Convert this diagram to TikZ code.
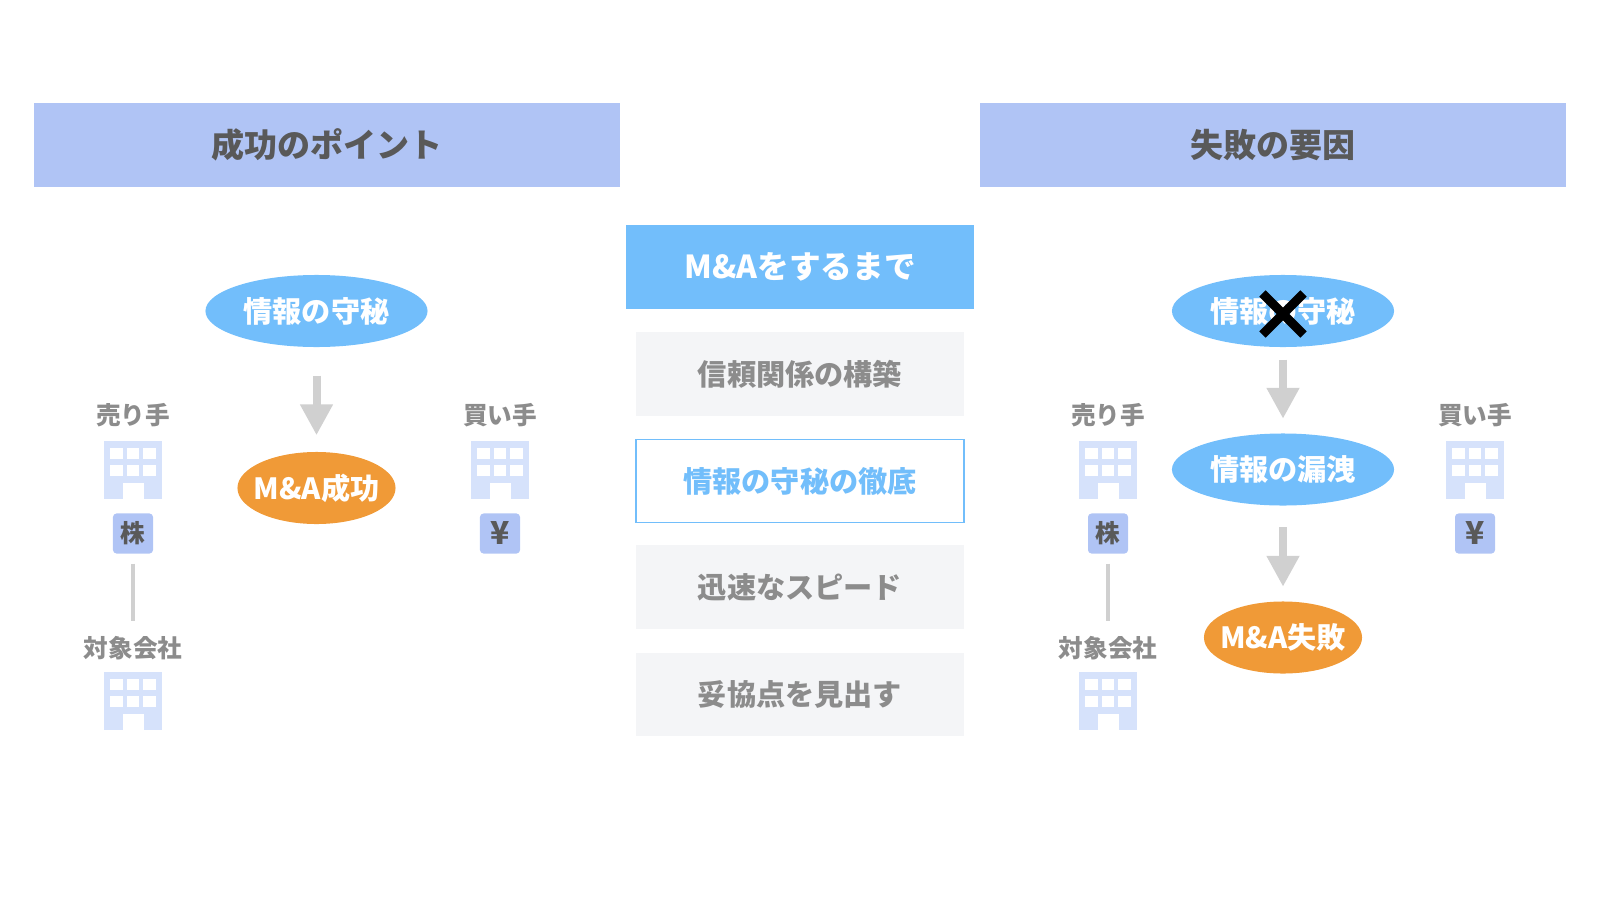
\documentclass[tikz,border=0pt]{standalone}
\usepackage{fontspec}
\setmainfont{Noto Sans CJK JP}
\usetikzlibrary{arrows.meta,shapes.geometric,shapes.misc}
\definecolor{headBlue}{HTML}{B0C4F5}
\definecolor{skyBlue}{HTML}{72BEFB}
\definecolor{paleGray}{HTML}{F4F5F7}
\definecolor{darkText}{HTML}{595959}
\definecolor{grayText}{HTML}{8C8C8C}
\definecolor{orangeFill}{HTML}{F09A37}
\definecolor{buildingFill}{HTML}{D6E2FB}
\definecolor{arrowGray}{HTML}{D0D0D0}
\tikzset{
  band/.style={fill=headBlue, text=darkText, inner sep=0pt, font=\fontsize{9.4}{11}\selectfont\bfseries,
    minimum height=0.83cm},
  midhead/.style={fill=skyBlue, text=white, inner sep=0pt, font=\fontsize{9}{11}\selectfont\bfseries,
    minimum width=3.48cm, minimum height=0.83cm},
  midbox/.style={fill=paleGray, text=grayText, inner sep=0pt, font=\fontsize{8.3}{10}\selectfont\bfseries,
    minimum width=3.28cm, minimum height=0.83cm},
  midfocus/.style={midbox, fill=white, draw=skyBlue, line width=0.5pt, text=skyBlue},
  bubble/.style={ellipse, fill=skyBlue, text=white, inner sep=0pt, font=\fontsize{8.3}{10}\selectfont\bfseries,
    minimum width=2.22cm, minimum height=0.72cm},
  result/.style={bubble, fill=orangeFill, inner xsep=-0.08cm, minimum width=1.58cm},
  partylabel/.style={text=grayText, inner sep=0pt, font=\fontsize{7}{8}\selectfont\bfseries},
  tag/.style={fill=headBlue, text=darkText, rounded corners=1pt, inner sep=0pt, minimum size=0.4cm,
    font=\fontsize{7}{8}\selectfont\bfseries},
  flow/.style={arrowGray, line width=0.08cm, -{Triangle[width=0.31cm,length=0.31cm]}},
  link/.style={arrowGray, line width=0.035cm},
  building/.pic={
    \fill[buildingFill] (-29,-29) rectangle (29,29);
    \foreach \r in {0,1} {
      \foreach \c in {0,1,2} {
        \fill[white] ({-23+\c*16.5},{-22+\r*16.7}) rectangle ({-10.5+\c*16.5},{-11+\r*16.7});
      }
    }
    \fill[white] (-10.5,13) rectangle (10.5,29);
  }
}

\begin{document}
\begin{tikzpicture}[x=0.01cm, y=-0.01cm]
  \useasboundingbox (0,0) rectangle (1600,900);

  %--- Column heads ---
  \node[band, minimum width=5.86cm] (headL) at (327,145) {成功のポイント};
  \node[band, minimum width=5.86cm] (headR) at (1273,145) {失敗の要因};

  %--- Middle column ---
  \node[midhead]  (midTop)  at (800,267)   {M\&Aをするまで};
  \node[midbox]   (midA)    at (800,374)   {信頼関係の構築};
  \node[midfocus] (midB)    at (800,481)   {情報の守秘の徹底};
  \node[midbox]   (midC)    at (800,587)   {迅速なスピード};
  \node[midbox]   (midD)    at (800,694.5) {妥協点を見出す};

  %--- Seller, buyer and target on both sides ---
  \foreach \side/\xs/\xb in {L/133/500, R/1108/1475} {
    \node[partylabel] (seller\side) at (\xs,415) {売り手};
    \pic at (\xs,470) {building};
    \node[tag] (stock\side) at (\xs,533.5) {株};
    \node[partylabel] (target\side) at (\xs,648) {対象会社};
    \pic at (\xs,701) {building};
    \draw[link, shorten <=0.095cm, shorten >=0.14cm] (stock\side) -- (target\side);

    \node[partylabel] (buyer\side) at (\xb,415) {買い手};
    \pic at (\xb,470) {building};
    \node[tag, font=\fontsize{9}{10}\selectfont\bfseries] (cash\side) at (\xb,533.5) {¥};
  }

  %--- Left flow ---
  \node[bubble] (keepL) at (316.5,311) {情報の守秘};
  \node[result] (winL)  at (316.5,488) {M\&A成功};
  \draw[flow, shorten <=0.28cm, shorten >=0.16cm] (keepL) -- (winL);

  %--- Right flow ---
  \node[bubble] (keepR) at (1283,311)   {情報の守秘};
  \node[bubble] (leakR) at (1283,469.5) {情報の漏洩};
  \node[result] (failR) at (1283,637.5) {M\&A失敗};
  \node[cross out, draw=black, line width=0.09cm, inner sep=0pt, minimum size=0.32cm] (crossR) at (1283,314) {};
  \draw[flow, shorten <=0.12cm, shorten >=0.14cm] (keepR) -- (leakR);
  \draw[flow, shorten <=0.21cm, shorten >=0.14cm] (leakR) -- (failR);

\end{tikzpicture}
\end{document}
